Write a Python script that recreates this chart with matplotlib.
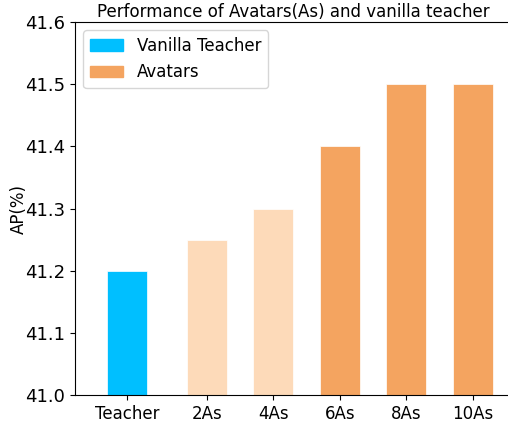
import matplotlib
matplotlib.use("Agg")
import matplotlib.pyplot as plt
from matplotlib.patches import Patch

categories = ["Teacher", "2As", "4As", "6As", "8As", "10As"]
values = [41.2, 41.25, 41.3, 41.4, 41.5, 41.5]
positions = [-0.2, 1, 2, 3, 4, 5]
colors = ["#00BFFF", "#FDDAB9", "#FDDAB9", "#F4A460", "#F4A460", "#F4A460"]

W, H = 508, 423
fig = plt.figure(figsize=(W / 100, H / 100), dpi=100)
ax = fig.add_axes([75 / W, 1 - 395 / H, (W - 75) / W + 0.06, (395 - 22) / H])

ax.bar(positions, [v - 41.0 for v in values], bottom=41.0, width=0.6, color=colors,
       edgecolor="white", linewidth=0.5)
ax.set_ylim(41.0, 41.6)
ax.set_xlim(-0.985, 5.53 + 0.06 * W / 66.5)
ax.set_xticks(positions)
ax.set_xticklabels(categories, fontsize=12)
ax.set_yticks([41.0, 41.1, 41.2, 41.3, 41.4, 41.5, 41.6])
ax.set_yticklabels(["41.0", "41.1", "41.2", "41.3", "41.4", "41.5", "41.6"], fontsize=13)
ax.set_ylabel("AP(%)", fontsize=12, labelpad=-2)
fig.text(0.5 * (95 + 492) / W, 1 - 12 / H, "Performance of Avatars(As) and vanilla teacher",
         fontsize=12, ha="center", va="center")

handles = [Patch(color="#00BFFF", label="Vanilla Teacher"), Patch(color="#F4A460", label="Avatars")]
ax.legend(handles=handles, loc="upper left", fontsize=12)

fig.savefig("out.png", dpi=100)
